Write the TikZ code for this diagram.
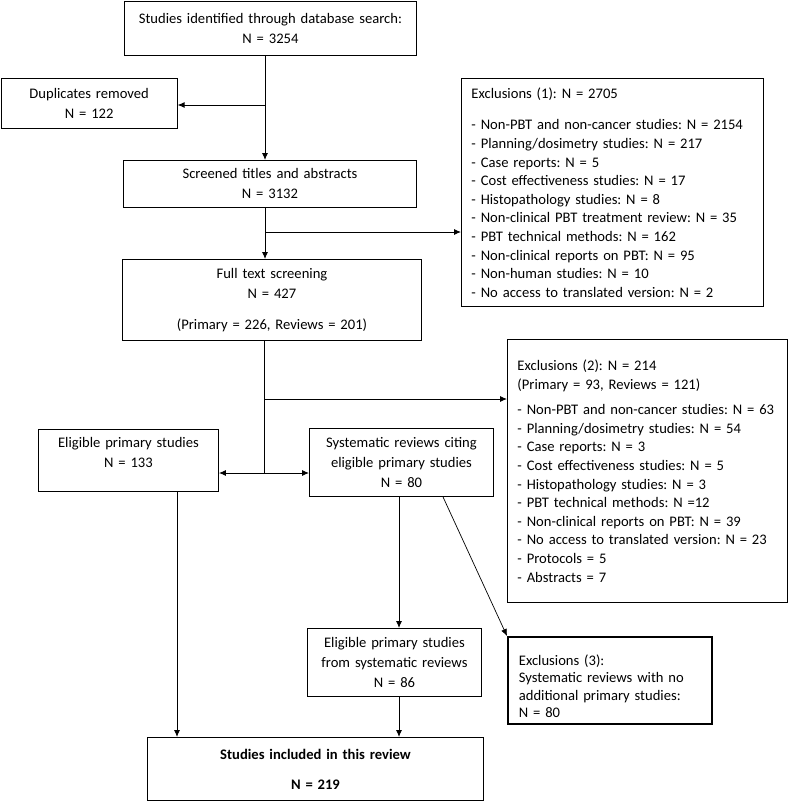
\documentclass[tikz,border=0pt]{standalone}
\usepackage{fontspec}
\setmainfont{Carlito}
\usepackage{tikz}
\usetikzlibrary{arrows.meta}
\frenchspacing

\begin{document}
\begin{tikzpicture}[x=1pt,y=-1pt,line width=0.9pt,
	box/.style={draw,anchor=north west,align=center,inner xsep=4pt,inner ysep=0pt,font=\fontsize{14.6}{20}\selectfont},
	listbox/.style={draw,anchor=north west,align=left,inner xsep=10pt,inner ysep=0pt,font=\fontsize{14.6}{18.6}\selectfont},
	arr/.style={-{Latex[length=7pt,width=6pt]}}]
		\useasboundingbox (0,0) rectangle (788,801);
		\node[box,text width=284pt,minimum height=54pt] (ident) at (124,0.7) {Studies identified through database search:\\N = 3254};
		\node[box,text width=168pt,minimum height=50pt] (dup) at (0.7,78) {Duplicates removed\\N = 122};
		\node[box,text width=285pt,minimum height=47pt] (screen) at (123,160) {Screened titles and abstracts\\N = 3132};
		\node[box,text width=291pt,minimum height=81pt] (full) at (122,259) {Full text screening\\N = 427\\[11pt](Primary = 226, Reviews = 201)};
		\node[listbox,text width=282pt,minimum height=228pt] (excl1) at (461,78) {Exclusions (1): N = 2705\\[13pt]
			- Non-PBT and non-cancer studies: N = 2154\\
			- Planning/dosimetry studies: N = 217\\
			- Case reports: N = 5\\
			- Cost effectiveness studies: N = 17\\
			- Histopathology studies: N = 8\\
			- Non-clinical PBT treatment review: N = 35\\
			- PBT technical methods: N = 162\\
			- Non-clinical reports on PBT: N = 95\\
			- Non-human studies: N = 10\\
			- No access to translated version: N = 2};
		\node[listbox,inner xsep=10pt,text width=260pt,minimum height=263pt] (excl2) at (507,339) {Exclusions (2): N = 214\\
			(Primary = 93, Reviews = 121)\\[7pt]
			\mbox{- Non-PBT and non-cancer studies: N = 63}\\
			- Planning/dosimetry studies: N = 54\\
			- Case reports: N = 3\\
			- Cost effectiveness studies: N = 5\\
			- Histopathology studies: N = 3\\
			- PBT technical methods: N =12\\
			- Non-clinical reports on PBT: N = 39\\
			- No access to translated version: N = 23\\
			- Protocols = 5\\
			- Abstracts = 7};
		\node[box,text width=172pt,minimum height=62pt] (elig) at (38,429) {Eligible primary studies\\N = 133\\[-4pt]\mbox{}};
		\node[box,text width=176pt,minimum height=68pt] (sysrev) at (309,428) {Systematic reviews citing\\eligible primary studies\\N = 80};
		\node[box,text width=166pt,minimum height=68pt] (eligsys) at (307,628) {Eligible primary studies\\from systematic reviews\\N = 86};
		\node[listbox,line width=1.8pt,inner xsep=11pt,text width=182pt,minimum height=87pt,font=\fontsize{14.6}{17.5}\selectfont] (excl3) at (507,636) {\\[5pt]Exclusions (3):\\Systematic reviews with no\\additional primary studies:\\N = 80};
		\node[box,text width=328pt,minimum height=63pt,font=\fontsize{14.6}{20}\selectfont\bfseries] (final) at (147,737) {Studies included in this review\\[10pt]N = 219};
		\coordinate (j1) at (265,105);
		\coordinate (j2) at (265,232);
		\coordinate (j3) at (264,399);
		\coordinate (j4) at (264,473);
		\coordinate (p1) at (177,0);
		\coordinate (p2) at (399,0);
		\coordinate (p3) at (443,0);
		\draw[arr] (ident.south -| j1) -- (screen.north -| j1);
		\draw[arr] (j1) -- (dup.east |- j1);
		\draw[arr] (screen.south -| j2) -- (full.north -| j2);
		\draw[arr] (j2) -- (excl1.west |- j2);
		\draw (full.south -| j4) -- (j4);
		\draw[arr] (j3) -- (excl2.west |- j3);
		\draw[arr] (j4) -- (elig.east |- j4);
		\draw[arr] (j4) -- (sysrev.west |- j4);
		\draw[arr] (elig.south -| p1) -- (final.north -| p1);
		\draw[arr] (sysrev.south -| p2) -- (eligsys.north -| p2);
		\draw[arr] (eligsys.south -| p2) -- (final.north -| p2);
		\draw[arr,line width=0.7pt] (sysrev.south -| p3) -- (excl3.north west);
\end{tikzpicture}
\end{document}
